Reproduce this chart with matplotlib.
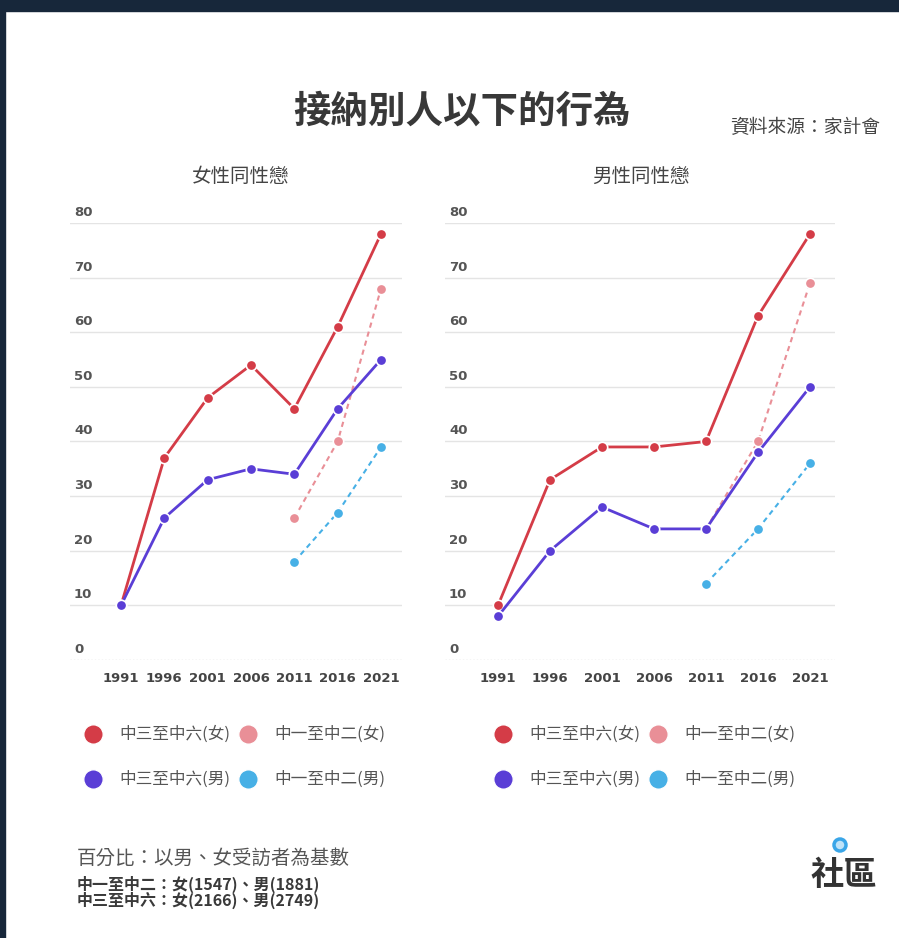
import matplotlib
matplotlib.use("Agg")
import matplotlib.pyplot as plt
from matplotlib.lines import Line2D
from matplotlib.patches import Rectangle, Ellipse

plt.rcParams['font.family'] = ['Noto Sans CJK TC', 'DejaVu Sans']

# ---------------- data ----------------
years = ["1991", "1996", "2001", "2006", "2011", "2016", "2021"]
yticks = [0, 10, 20, 30, 40, 50, 60, 70, 80]

series_names = ["中三至中六(女)", "中一至中二(女)", "中三至中六(男)", "中一至中二(男)"]

# 女性同性戀 panel
f_s36_f = [10, 37, 48, 54, 46, 61, 78]
f_s36_m = [10, 26, 33, 35, 34, 46, 55]
f_s12_f = [None, None, None, None, 26, 40, 68]
f_s12_m = [None, None, None, None, 18, 27, 39]

# 男性同性戀 panel
m_s36_f = [10, 33, 39, 39, 40, 63, 78]
m_s36_m = [8, 20, 28, 24, 24, 38, 50]
m_s12_f = [None, None, None, None, 24, 40, 69]
m_s12_m = [None, None, None, None, 14, 24, 36]

title = "接納別人以下的行為"
source = "資料來源：家計會"
panel_titles = ["女性同性戀", "男性同性戀"]
note1 = "百分比：以男、女受訪者為基數"
note2 = "中一至中二：女(1547)、男(1881)"
note3 = "中三至中六：女(2166)、男(2749)"

# ---------------- style ----------------
RED = "#d43c47"
PINK = "#e98f97"
PURPLE = "#5a3ed6"
CYAN = "#47b0e6"
W, H = 899, 938

fig = plt.figure(figsize=(W / 100, H / 100), dpi=100)
fig.patch.set_facecolor("white")


def fx(x):
    return x / W


def fy(y):
    return 1 - y / H


# dark frame
fig.add_artist(Rectangle((0, fy(11)), 1, 11 / H, transform=fig.transFigure,
                         color="#17273a", zorder=0))
fig.add_artist(Rectangle((0, 0), 5 / W, 1, transform=fig.transFigure,
                         color="#17273a", zorder=0))


def make_axes(left_px, right_px, x0_px, x6_px):
    top_px, bot_px = 223, 660
    ax = fig.add_axes([fx(left_px), fy(bot_px), (right_px - left_px) / W,
                       (bot_px - top_px) / H])
    per = (x6_px - x0_px) / 6
    ax.set_xlim((left_px - x0_px) / per, (right_px - x0_px) / per)
    ax.set_ylim(0, 80)
    for s in ax.spines.values():
        s.set_visible(False)
    ax.set_yticks([])
    ax.set_xticks(range(len(years)))
    ax.set_xticklabels(years, fontsize=9.5, fontweight="bold", color="#444444",
                       family=["DejaVu Sans"])
    ax.tick_params(axis="x", length=0, pad=9)
    for v in yticks:
        if v == 0:
            ax.axhline(v, color="#d0d0d0", lw=1, ls=(0, (1, 1.5)), zorder=1)
        else:
            ax.axhline(v, color="#e4e4e4", lw=1, zorder=1)
        ax.annotate(str(v), xy=(0, v), xycoords=("axes fraction", "data"),
                    xytext=(4, 4), textcoords="offset pixels",
                    fontsize=9.5, fontweight="bold", color="#555555",
                    ha="left", va="bottom", family=["DejaVu Sans"])
    return ax


def plot_panel(ax, s36f, s36m, s12f, s12m):
    xs = list(range(len(years)))

    def pts(vals):
        xx = [x for x, v in zip(xs, vals) if v is not None]
        yy = [v for v in vals if v is not None]
        return xx, yy

    kw_m = dict(marker="o", markersize=7.5, markeredgecolor="white",
                markeredgewidth=1.2, clip_on=False)
    x, y = pts(s12f)
    ax.plot(x, y, color=PINK, lw=1.5, ls=(0, (2.5, 2)), zorder=3, **kw_m)
    x, y = pts(s12m)
    ax.plot(x, y, color=CYAN, lw=1.5, ls=(0, (2.5, 2)), zorder=3, **kw_m)
    x, y = pts(s36f)
    ax.plot(x, y, color=RED, lw=2, zorder=4, **kw_m)
    x, y = pts(s36m)
    ax.plot(x, y, color=PURPLE, lw=2, zorder=5, **kw_m)


axL = make_axes(70, 402, 121, 381)
plot_panel(axL, f_s36_f, f_s36_m, f_s12_f, f_s12_m)
axR = make_axes(445, 835, 498, 810)
plot_panel(axR, m_s36_f, m_s36_m, m_s12_f, m_s12_m)

# titles
fig.text(fx(462), fy(111), title, fontsize=27, fontweight="bold",
         color="#383838", ha="center", va="center")
fig.text(fx(880), fy(128), source, fontsize=13.5, color="#444444",
         ha="right", va="center")
fig.text(fx(241), fy(177), panel_titles[0], fontsize=14, color="#444444",
         ha="center", va="center")
fig.text(fx(641), fy(177), panel_titles[1], fontsize=14, color="#444444",
         ha="center", va="center")

# legends
colors = [RED, PINK, PURPLE, CYAN]
for base_x in (93, 503):
    positions = [(base_x, 734), (base_x + 155, 734), (base_x, 779), (base_x + 155, 779)]
    for (px, py), c, name in zip(positions, colors, series_names):
        fig.add_artist(Line2D([fx(px)], [fy(py)], marker="o", markersize=14,
                              color=c, markeredgecolor="white",
                              markeredgewidth=1, transform=fig.transFigure))
        fig.text(fx(px + 26), fy(py), name, fontsize=12, color="#555555",
                 ha="left", va="center")

# notes
fig.text(fx(77), fy(858), note1, fontsize=14, color="#555555",
         ha="left", va="center")
fig.text(fx(77), fy(884), note2, fontsize=11.5, color="#3a3a3a",
         fontweight="bold", ha="left", va="center")
fig.text(fx(77), fy(900), note3, fontsize=11.5, color="#3a3a3a",
         fontweight="bold", ha="left", va="center")

# logo
fig.text(fx(844), fy(875), "社區", fontsize=24, fontweight="bold",
         color="#333333", ha="center", va="center")
fig.add_artist(Ellipse((fx(840), fy(845)), 12 / W, 12 / H,
                       transform=fig.transFigure, facecolor="#bfe3f8",
                       edgecolor="#3aa6e8", lw=2.5))

fig.savefig("out.png", dpi=100, facecolor="white")
